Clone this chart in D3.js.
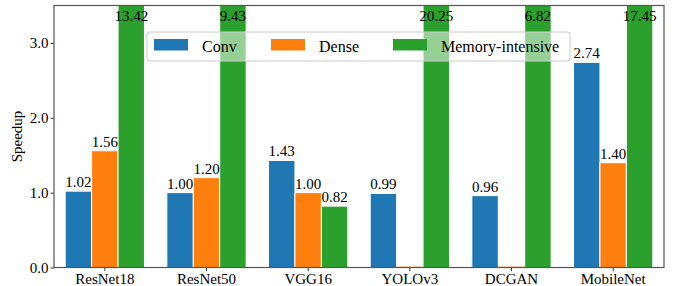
<!DOCTYPE html>
<html lang="en">
<head>
<meta charset="utf-8">
<title>Speedup by model</title>
<script src="https://cdn.jsdelivr.net/npm/d3@7"></script>
<style>
  body { margin: 0; background: #fff; }
  svg { display: block; font-family: "Liberation Serif", "Times New Roman", serif; }
</style>
</head>
<body>
<script>
// chart data
var models = ["ResNet18", "ResNet50", "VGG16", "YOLOv3", "DCGAN", "MobileNet"];
var seriesNames = ["Conv", "Dense", "Memory-intensive"];
var conv = [1.02, 1.00, 1.43, 0.99, 0.96, 2.74];
var dense = [1.56, 1.20, 1.00, 0, 0, 1.40];
var memory = [13.42, 9.43, 0.82, 20.25, 6.82, 17.45];
var yTicks = [0, 1, 2, 3];
var colors = ["#1f77b4", "#ff7f0e", "#2ca02c"];

var w = 678, h = 286;
var margin = {top: 5.5, right: 14, bottom: 18.5, left: 54};
var iw = w - margin.left - margin.right,
    ih = h - margin.top - margin.bottom;
var yMax = 3.5;

var svg = d3.select("body").append("svg")
  .attr("width", w).attr("height", h);

var g = svg.append("g")
  .attr("transform", "translate(" + margin.left + "," + margin.top + ")");

var x0 = d3.scaleBand().domain(models).range([0, iw]).paddingInner(0).paddingOuter(0);
var barW = x0.bandwidth() * 0.26;
var x1 = d3.scaleBand().domain(seriesNames).range([0, barW * 3]);
var y = d3.scaleLinear().domain([0, yMax]).range([ih, 0]);

svg.append("defs").append("clipPath").attr("id", "plot")
  .append("rect").attr("width", iw).attr("height", ih);

// flatten the series into rows for binding
var rows = [];
[conv, dense, memory].forEach(function(vals, si) {
  vals.forEach(function(v, i) {
    rows.push({model: models[i], series: seriesNames[si], si: si, value: v});
  });
});

var groupOff = (x0.bandwidth() - barW * 3) / 2;

var bars = g.append("g").attr("clip-path", "url(#plot)");
bars.selectAll("rect")
  .data(rows)
  .enter().append("rect")
  .attr("x", function(d) { return x0(d.model) + groupOff + x1(d.series); })
  .attr("width", barW)
  .attr("y", function(d) { return d.value > 0 ? y(d.value) : ih - 1; })
  .attr("height", function(d) { return d.value > 0 ? ih - y(d.value) : 1; })
  .attr("fill", function(d) { return colors[d.si]; })
  .attr("fill-opacity", function(d) { return d.value > 0 ? 1 : 0.6; })
  .attr("stroke", "#fff")
  .attr("stroke-width", function(d) { return d.value > 0 ? 1 : 0; });

// value labels (off-scale bars get their label near the top)
g.append("g").selectAll("text")
  .data(rows.filter(function(d) { return d.value > 0; }))
  .enter().append("text")
  .attr("x", function(d) { return x0(d.model) + groupOff + x1(d.series) + barW / 2; })
  .attr("y", function(d) { return y(Math.min(d.value, 3.24)) - 4; })
  .attr("text-anchor", "middle")
  .attr("font-size", 15)
  .attr("fill", "#000")
  .text(function(d) { return d.value.toFixed(2); });

// axes
var xAxis = g.append("g")
  .attr("transform", "translate(0," + ih + ")")
  .call(d3.axisBottom(x0).tickSizeInner(3.5).tickSizeOuter(0).tickPadding(2));
var yAxis = g.append("g")
  .call(d3.axisLeft(y).tickValues(yTicks).tickFormat(d3.format(".1f"))
    .tickSizeInner(3.5).tickSizeOuter(0).tickPadding(2));
[xAxis, yAxis].forEach(function(a) {
  a.select(".domain").remove();
  a.selectAll("line").attr("stroke", "#333");
  a.selectAll("text").attr("font-size", 15).attr("fill", "#000")
    .attr("font-family", "Liberation Serif, serif");
});

// frame
g.append("rect")
  .attr("width", iw).attr("height", ih)
  .attr("fill", "none").attr("stroke", "#555").attr("stroke-width", 1.2);

svg.append("text")
  .attr("transform", "translate(22," + (margin.top + ih / 2) + ") rotate(-90)")
  .attr("text-anchor", "middle")
  .attr("font-size", 15)
  .text("Speedup");

// legend
var leg = g.append("g").attr("transform", "translate(" + (147 - margin.left) + "," + (32 - margin.top) + ")");
leg.append("rect")
  .attr("width", 423).attr("height", 29).attr("rx", 3)
  .attr("fill", "#fff").attr("fill-opacity", 0.5)
  .attr("stroke", "#ccc").attr("stroke-width", 1);
var legX = [7, 124, 246];
var items = leg.selectAll("g.item").data(seriesNames).enter().append("g")
  .attr("transform", function(d, i) { return "translate(" + legX[i] + ",0)"; });
items.append("rect")
  .attr("y", 7).attr("width", 34).attr("height", 11.5)
  .attr("fill", function(d, i) { return colors[i]; });
items.append("text")
  .attr("x", 48).attr("y", 19.5)
  .attr("font-size", 16)
  .text(function(d) { return d; });
</script>
</body>
</html>
